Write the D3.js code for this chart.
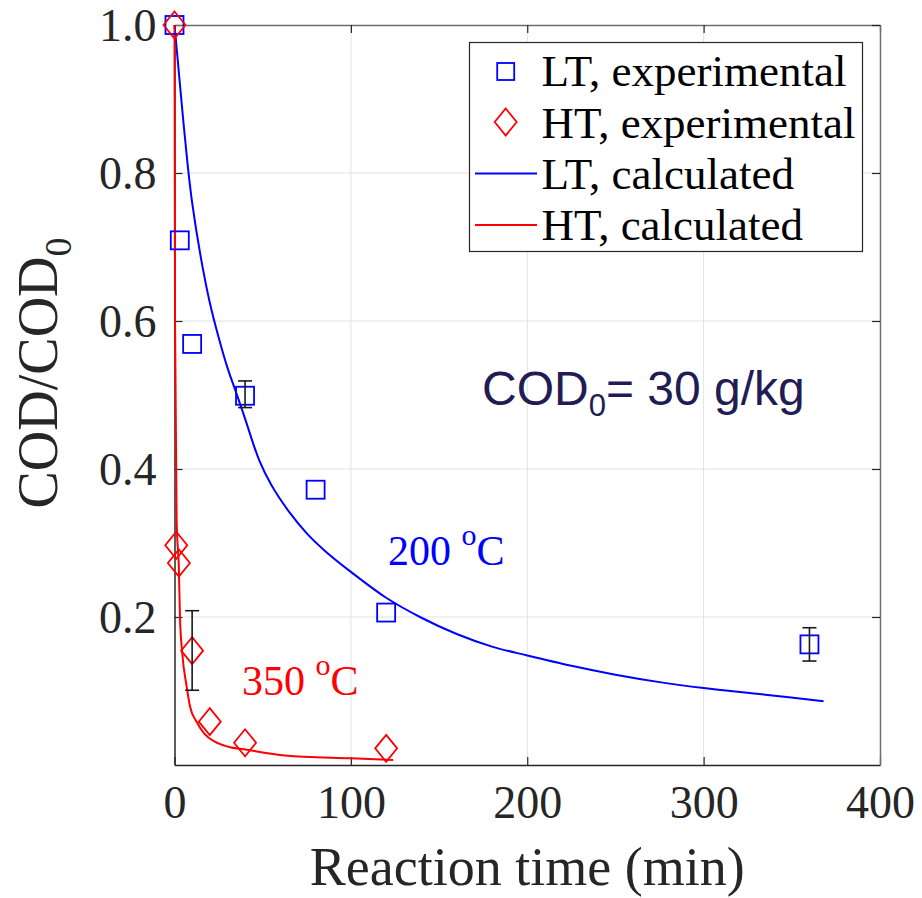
<!DOCTYPE html>
<html>
<head>
<meta charset="utf-8">
<script src="https://cdn.jsdelivr.net/npm/d3@7/dist/d3.min.js"></script>
<style>
  html, body { margin: 0; padding: 0; background: #fff; }
  svg { display: block; }
</style>
</head>
<body>
<svg id="chart" width="922" height="898"></svg>
<script>
// ---------------- data ----------------
const xTicks = [0, 100, 200, 300, 400];
const yTicks = [0.2, 0.4, 0.6, 0.8, 1.0];

// LT (200 °C) experimental
const ltTime = [0, 3, 10, 40, 80, 120, 360];
const ltCOD  = [1.0, 0.709, 0.569, 0.499, 0.372, 0.206, 0.163];
const ltErrIndex = [3, 6];
const ltErrLow   = [0.483, 0.1405];
const ltErrHigh  = [0.519, 0.1855];

// HT (350 °C) experimental
const htTime = [0, 1, 2.5, 10, 20, 40, 120];
const htCOD  = [1.0, 0.297, 0.273, 0.1545, 0.0586, 0.030, 0.0225];
const htErrIndex = [3];
const htErrLow   = [0.101];
const htErrHigh  = [0.2085];

// LT calculated curve
const ltCalcTime = [0, 2.5, 5, 7.5, 10, 15, 20, 25, 30, 35, 40, 48, 55, 65, 75, 85, 100, 120, 140, 160, 180, 200, 225, 250, 275, 300, 335, 368];
const ltCalcCOD  = [1.0, 0.935, 0.87, 0.81, 0.76, 0.685, 0.625, 0.578, 0.537, 0.503, 0.468, 0.412, 0.378, 0.342, 0.313, 0.290, 0.261, 0.226, 0.199, 0.177, 0.160, 0.148, 0.134, 0.122, 0.112, 0.104, 0.095, 0.086];

// HT calculated curve
const htCalcTime = [0, 0.3, 1.2, 2.5, 3.1, 4.4, 6.9, 8.8, 12.6, 17, 22.9, 30, 41.8, 62.6, 100, 124];
const htCalcCOD  = [1.0, 0.60, 0.331, 0.2635, 0.20, 0.151, 0.106, 0.079, 0.058, 0.042, 0.0315, 0.025, 0.0203, 0.013, 0.009, 0.0068];

const legendLabels = ["LT, experimental", "HT, experimental", "LT, calculated", "HT, calculated"];

// ---------------- layout ----------------
const svg = d3.select("#chart");
const X0 = 174.5, X1 = 880, Y0 = 765, Y1 = 25;
const x = d3.scaleLinear().domain([0, 400]).range([X0, X1]);
const y = d3.scaleLinear().domain([0, 1]).range([Y0, Y1]);

const serif = "'Liberation Serif', 'Times New Roman', serif";
const sans = "'Liberation Sans', Arial, sans-serif";
const BLUE = "#0000ff", RED = "#ff0000";

// grid
const grid = svg.append("g");
grid.selectAll("line.gx").data(xTicks.filter(d => d > 0 && d < 400)).enter().append("line")
  .attr("x1", d => x(d)).attr("x2", d => x(d)).attr("y1", Y1).attr("y2", Y0)
  .attr("stroke", "#e1e1e1").attr("stroke-width", 1);
grid.selectAll("line.gy").data(yTicks.filter(d => d < 1)).enter().append("line")
  .attr("x1", X0).attr("x2", X1).attr("y1", d => y(d)).attr("y2", d => y(d))
  .attr("stroke", "#e1e1e1").attr("stroke-width", 1);

// axes
const axB = svg.append("g").attr("transform", `translate(0,${Y0})`)
  .call(d3.axisBottom(x).tickValues(xTicks).tickSizeInner(-8).tickSizeOuter(0).tickPadding(20).tickFormat(d3.format("d")));
const axL = svg.append("g").attr("transform", `translate(${X0},0)`)
  .call(d3.axisLeft(y).tickValues(yTicks).tickSizeInner(-8).tickSizeOuter(0).tickPadding(18).tickFormat(d3.format(".1f")));
const axT = svg.append("g").attr("transform", `translate(0,${Y1})`)
  .call(d3.axisTop(x).tickValues(xTicks).tickSizeInner(-8).tickSizeOuter(0).tickFormat(""));
const axR = svg.append("g").attr("transform", `translate(${X1},0)`)
  .call(d3.axisRight(y).tickValues(yTicks).tickSizeInner(-8).tickSizeOuter(0).tickFormat(""));

[axB, axL].forEach(a => {
  a.select(".domain").attr("stroke", "#262626").attr("stroke-width", 1.5);
  a.selectAll(".tick line").attr("stroke", "#262626").attr("stroke-width", 1.2);
  a.selectAll(".tick text").attr("font-family", serif).attr("font-size", 46).attr("fill", "#262626");
});
[axT, axR].forEach(a => {
  a.select(".domain").attr("stroke", "#6e6e6e").attr("stroke-width", 1.5);
  a.selectAll(".tick line").attr("stroke", "#262626").attr("stroke-width", 1.2);
});
axB.selectAll(".tick text").attr("dy", "0.71em");
axL.selectAll(".tick text").attr("dy", "0.34em");

// axis labels
svg.append("text").attr("x", (X0 + X1) / 2).attr("y", 885)
  .attr("text-anchor", "middle").attr("font-family", serif).attr("font-size", 54).attr("fill", "#262626")
  .text("Reaction time (min)");
const yl = svg.append("text").attr("transform", "translate(57,373) rotate(-90)")
  .attr("text-anchor", "middle").attr("font-family", serif).attr("font-size", 56).attr("fill", "#262626");
yl.append("tspan").text("COD/COD");
yl.append("tspan").attr("font-size", 38).attr("dy", 14).text("0");

// calculated curves
svg.append("path").datum(ltCalcTime.map((t, i) => [t, ltCalcCOD[i]]))
  .attr("d", d3.line().curve(d3.curveCatmullRom.alpha(0.5)).x(d => x(d[0])).y(d => y(d[1])))
  .attr("fill", "none").attr("stroke", BLUE).attr("stroke-width", 2);
svg.append("path").datum(htCalcTime.map((t, i) => [t, htCalcCOD[i]]))
  .attr("d", d3.line().curve(d3.curveMonotoneX).x(d => x(d[0])).y(d => y(d[1])))
  .attr("fill", "none").attr("stroke", RED).attr("stroke-width", 2);

// markers
const SQ = 18, DW = 11, DH = 13.5;
function diamondPath(cx, cy) {
  return `M${cx},${cy - DH}L${cx + DW},${cy}L${cx},${cy + DH}L${cx - DW},${cy}Z`;
}
svg.append("g").selectAll("rect").data(ltTime.map((t, i) => [t, ltCOD[i]])).enter().append("rect")
  .attr("x", d => x(d[0]) - SQ / 2).attr("y", d => y(d[1]) - SQ / 2)
  .attr("width", SQ).attr("height", SQ)
  .attr("fill", "none").attr("stroke", BLUE).attr("stroke-width", 1.8);
svg.append("g").selectAll("path").data(htTime.map((t, i) => [t, htCOD[i]])).enter().append("path")
  .attr("d", d => diamondPath(x(d[0]), y(d[1])))
  .attr("fill", "none").attr("stroke", RED).attr("stroke-width", 1.8);

// error bars
function errBars(times, idx, lo, hi) {
  const g = svg.append("g").attr("stroke", "#1a1a1a").attr("stroke-width", 1.6);
  idx.forEach((k, i) => {
    const cx = x(times[k]);
    g.append("line").attr("x1", cx).attr("x2", cx).attr("y1", y(lo[i])).attr("y2", y(hi[i]));
    g.append("line").attr("x1", cx - 7).attr("x2", cx + 7).attr("y1", y(lo[i])).attr("y2", y(lo[i]));
    g.append("line").attr("x1", cx - 7).attr("x2", cx + 7).attr("y1", y(hi[i])).attr("y2", y(hi[i]));
  });
}
errBars(ltTime, ltErrIndex, ltErrLow, ltErrHigh);
errBars(htTime, htErrIndex, htErrLow, htErrHigh);

// annotations
const a1 = svg.append("text").attr("x", 388).attr("y", 565)
  .attr("font-family", serif).attr("font-size", 42).attr("fill", BLUE);
a1.append("tspan").text("200 ");
a1.append("tspan").attr("font-size", 30).attr("dy", -20).text("o");
a1.append("tspan").attr("dy", 20).text("C");

const a2 = svg.append("text").attr("x", 242).attr("y", 695)
  .attr("font-family", serif).attr("font-size", 42).attr("fill", RED);
a2.append("tspan").text("350 ");
a2.append("tspan").attr("font-size", 30).attr("dy", -20).text("o");
a2.append("tspan").attr("dy", 20).text("C");

const a3 = svg.append("text").attr("x", 482).attr("y", 405)
  .attr("font-family", sans).attr("font-size", 48).attr("fill", "#221c54");
a3.append("tspan").text("COD");
a3.append("tspan").attr("font-size", 31).attr("dy", 11).text("0");
a3.append("tspan").attr("dy", -11).text("= 30 g/kg");

// legend
const lg = svg.append("g");
lg.append("rect").attr("x", 469.5).attr("y", 42.5).attr("width", 393).attr("height", 209)
  .attr("fill", "#fff").attr("stroke", "#262626").attr("stroke-width", 1.2);
const rowBase = [86, 137.5, 188.5, 240];
legendLabels.forEach((lab, i) => {
  lg.append("text").attr("x", 541.5).attr("y", rowBase[i])
    .attr("font-family", serif).attr("font-size", 45).attr("fill", "#000").text(lab);
});
lg.append("rect").attr("x", 505.7 - 8.5).attr("y", rowBase[0] - 14.5 - 8.5).attr("width", 17).attr("height", 17)
  .attr("fill", "none").attr("stroke", BLUE).attr("stroke-width", 1.8);
lg.append("path").attr("d", diamondPath(505.7, rowBase[1] - 15.5))
  .attr("fill", "none").attr("stroke", RED).attr("stroke-width", 1.8);
lg.append("line").attr("x1", 475).attr("x2", 537).attr("y1", rowBase[2] - 15).attr("y2", rowBase[2] - 15)
  .attr("stroke", BLUE).attr("stroke-width", 2);
lg.append("line").attr("x1", 475).attr("x2", 537).attr("y1", rowBase[3] - 15).attr("y2", rowBase[3] - 15)
  .attr("stroke", RED).attr("stroke-width", 2);
</script>
</body>
</html>
